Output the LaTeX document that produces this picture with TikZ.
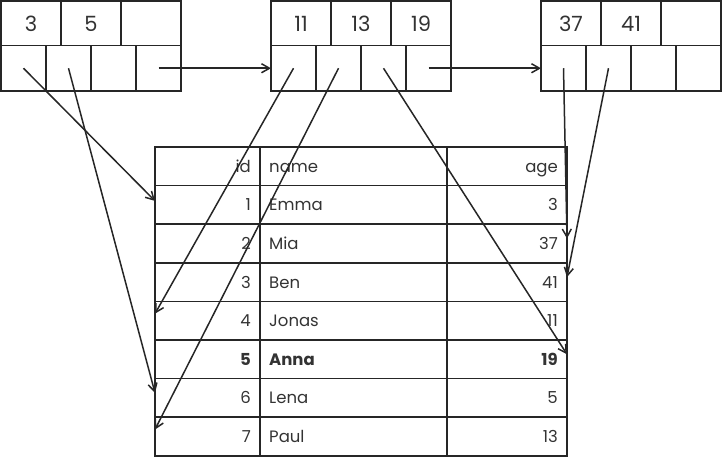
\documentclass[tikz,border=0pt]{standalone}
\usepackage{fontspec}
\setmainfont{Poppins}
\usetikzlibrary{arrows.meta,calc}
\definecolor{ink}{HTML}{262626}
\definecolor{txt}{HTML}{333333}
\begin{document}
\begin{tikzpicture}[x=1pt,y=-1pt,
  cellbase/.style={draw=ink,line width=1.7pt,inner sep=0pt,outer sep=0pt},
  keycell/.style={cellbase,minimum width=60pt,minimum height=44.5pt},
  ptrcell/.style={cellbase,minimum width=45pt,minimum height=45.5pt},
  keytext/.style={anchor=base,inner sep=0pt,font=\fontsize{21}{24}\selectfont,text=txt},
  tcell/.style={cellbase,minimum height=38.6pt},
  idcell/.style={tcell,minimum width=105pt},
  namecell/.style={tcell,minimum width=187pt},
  agecell/.style={tcell,minimum width=120pt},
  ttext/.style={inner sep=0pt,font=\fontsize{16.5}{19}\selectfont,text=txt},
  ptr/.style={draw=ink,line width=1.5pt,-{Straight Barb[length=8pt,width=9pt]}}
]
\useasboundingbox (0,0) rectangle (722,457);
% B-tree leaf blocks
\foreach \b/\x in {1/1,2/271,3/541}{
  \foreach \i in {1,2,3}{
    \node[keycell] (b\b k\i) at ({\x+30+60*(\i-1)},23.25) {};
  }
  \foreach \i in {1,2,3,4}{
    \node[ptrcell] (b\b p\i) at ({\x+22.5+45*(\i-1)},68.25) {};
  }
}
\node[keytext] (l11) at ($(b1k1.center)+(0,8)$) {3};
\node[keytext] (l12) at ($(b1k2.center)+(0,8)$) {5};
\node[keytext] (l21) at ($(b2k1.center)+(0,8)$) {11};
\node[keytext] (l22) at ($(b2k2.center)+(0,8)$) {13};
\node[keytext] (l23) at ($(b2k3.center)+(0,8)$) {19};
\node[keytext] (l31) at ($(b3k1.center)+(0,8)$) {37};
\node[keytext] (l32) at ($(b3k2.center)+(0,8)$) {41};
% table
\foreach \r/\id/\nm/\ag [count=\n from 0] in {0/id/name/age,1/1/Emma/3,2/2/Mia/37,3/3/Ben/41,4/4/Jonas/11,5/\textbf{5}/\textbf{Anna}/\textbf{19},6/6/Lena/5,7/7/Paul/13}{
  \node[idcell] (id\r) at (207.5,{166.3+38.6*\n}) {};
  \node[namecell] (nm\r) at (353.5,{166.3+38.6*\n}) {};
  \node[agecell] (ag\r) at (507,{166.3+38.6*\n}) {};
  \node[ttext,anchor=base east] (tid\r) at ($(id\r.east)+(-9,6)$) {\id};
  \node[ttext,anchor=base west] (tnm\r) at ($(nm\r.west)+(9,6)$) {\nm};
  \node[ttext,anchor=base east] (tag\r) at ($(ag\r.east)+(-9,6)$) {\ag};
}
% arrow targets
\coordinate (t1) at ($(id1.west)+(0,-4)$);
\coordinate (t6) at ($(id6.west)+(0,-5)$);
\coordinate (t4) at ($(id4.west)+(0,-7)$);
\coordinate (t7) at ($(id7.west)+(0,-7)$);
\coordinate (t5) at ($(ag5.east)+(0,-5)$);
\coordinate (t2) at ($(ag2.east)+(0,-5)$);
\coordinate (t3) at ($(ag3.east)+(0,-5)$);
% pointers
\draw[ptr] (b1p4.center) -- (b2p1.west);
\draw[ptr] (b2p4.center) -- (b3p1.west);
\draw[ptr] (b1p1.center) -- (t1);
\draw[ptr] (b1p2.center) -- (t6);
\draw[ptr] (b2p1.center) -- (t4);
\draw[ptr] (b2p2.center) -- (t7);
\draw[ptr] (b2p3.center) -- (t5);
\draw[ptr] (b3p1.center) -- (t2);
\draw[ptr] (b3p2.center) -- (t3);
\end{tikzpicture}
\end{document}
